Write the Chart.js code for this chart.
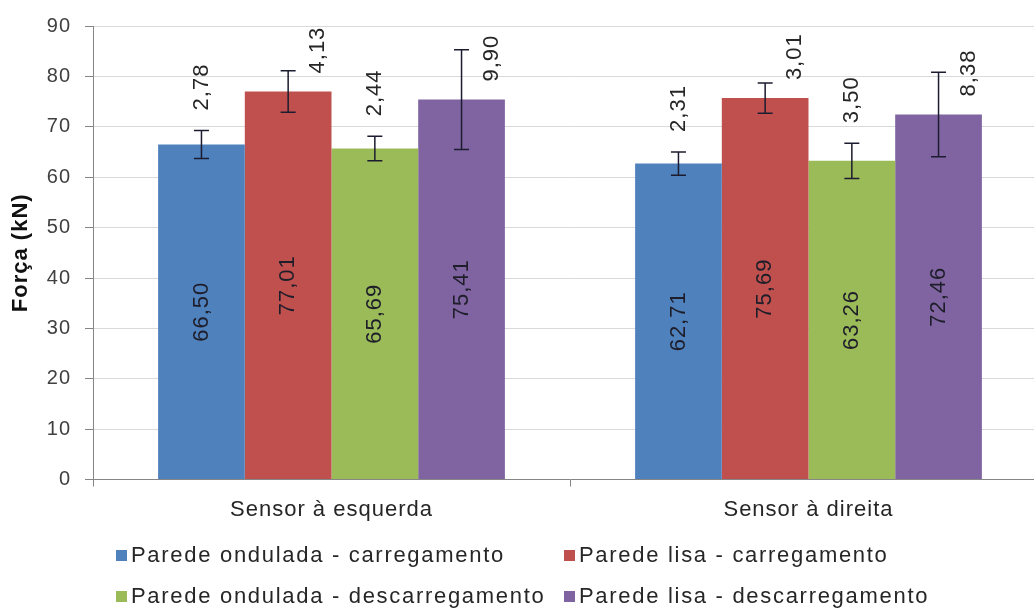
<!DOCTYPE html>
<html>
<head>
<meta charset="utf-8">
<script src="https://cdn.jsdelivr.net/npm/chart.js@4.4.1/dist/chart.umd.min.js"></script>
<style>
  html, body { margin: 0; padding: 0; background: #fff; overflow: hidden; }
  #wrap { width: 1034px; height: 612px; overflow: hidden; position: relative; }
</style>
</head>
<body>
<div id="wrap"><canvas id="myChart" width="1047" height="612"></canvas></div>
<script>
// data
const categories = ['Sensor à esquerda', 'Sensor à direita'];
const seriesNames = [
  'Parede ondulada - carregamento',
  'Parede lisa - carregamento',
  'Parede ondulada - descarregamento',
  'Parede lisa - descarregamento'
];
const onduladaCarregamento = [66.50, 62.71];
const lisaCarregamento = [77.01, 75.69];
const onduladaDescarregamento = [65.69, 63.26];
const lisaDescarregamento = [75.41, 72.46];
const erroOnduladaCarregamento = [2.78, 2.31];
const erroLisaCarregamento = [4.13, 3.01];
const erroOnduladaDescarregamento = [2.44, 3.50];
const erroLisaDescarregamento = [9.90, 8.38];
const yTicks = [0, 10, 20, 30, 40, 50, 60, 70, 80, 90];

const colors = ['#4f81bd', '#c0504d', '#9bbb59', '#8064a2'];
const FONT = 'Liberation Sans, Arial, sans-serif';
const fmt = v => v.toFixed(2).replace('.', ',');

function rotatedText(ctx, text, x, y, align) {
  ctx.save();
  ctx.translate(x, y);
  ctx.rotate(-Math.PI / 2);
  ctx.textAlign = align;
  ctx.textBaseline = 'middle';
  ctx.fillText(text, 0, 0);
  ctx.restore();
}

// Excel-like wide text spacing for everything drawn on the canvas
const spacing = {
  id: 'spacing',
  beforeDraw(chart) { chart.ctx.letterSpacing = '1px'; }
};

// error bars, value labels and error labels
const errorBars = {
  id: 'errorBars',
  afterDatasetsDraw(chart) {
    const ctx = chart.ctx;
    const y = chart.scales.y;
    const top = chart.chartArea.top;
    ctx.save();
    chart.data.datasets.forEach((ds, i) => {
      const meta = chart.getDatasetMeta(i);
      meta.data.forEach((bar, j) => {
        const v = ds.data[j], e = ds.errors[j];
        const yHi = y.getPixelForValue(v + e);
        const yLo = y.getPixelForValue(v - e);
        ctx.strokeStyle = '#1c1c30';
        ctx.lineWidth = 1.5;
        ctx.beginPath();
        ctx.moveTo(bar.x, yHi); ctx.lineTo(bar.x, yLo);
        ctx.moveTo(bar.x - 7.5, yHi); ctx.lineTo(bar.x + 7.5, yHi);
        ctx.moveTo(bar.x - 7.5, yLo); ctx.lineTo(bar.x + 7.5, yLo);
        ctx.stroke();

        ctx.fillStyle = '#1e1e2a';
        ctx.font = '22px ' + FONT;
        rotatedText(ctx, fmt(v), bar.x, (bar.y + bar.base) / 2, 'center');

        // error label above the error bar, or beside it when it would leave the plot
        const label = fmt(e);
        const w = ctx.measureText(label).width;
        let x = bar.x, bottom = yHi - 20;
        if (bottom - w < top) { x = bar.x + 30; bottom = bar.y - 18; }
        ctx.fillStyle = '#262626';
        rotatedText(ctx, label, x, bottom, 'left');
      });
    });
    ctx.restore();
  }
};

// two-column legend below the axis
const legendGrid = {
  id: 'legendGrid',
  afterDraw(chart) {
    const ctx = chart.ctx;
    const cols = [116, 564], rows = [555, 596];
    ctx.save();
    ctx.font = '22px ' + FONT;
    ctx.letterSpacing = '1.7px';
    ctx.textBaseline = 'middle';
    ctx.textAlign = 'left';
    chart.data.datasets.forEach((ds, i) => {
      const x = cols[i % 2], yy = rows[Math.floor(i / 2)];
      ctx.fillStyle = ds.backgroundColor;
      ctx.fillRect(x, yy - 5, 11, 11);
      ctx.fillStyle = '#262626';
      ctx.fillText(ds.label, x + 15, yy + 1);
    });
    ctx.restore();
  }
};

const series = [onduladaCarregamento, lisaCarregamento, onduladaDescarregamento, lisaDescarregamento];
const errors = [erroOnduladaCarregamento, erroLisaCarregamento, erroOnduladaDescarregamento, erroLisaDescarregamento];

const data = {
  labels: categories,
  datasets: series.map((s, i) => ({
    label: seriesNames[i],
    data: s,
    errors: errors[i],
    backgroundColor: colors[i],
    borderWidth: 0,
    categoryPercentage: 0.727,
    barPercentage: 1
  }))
};

const config = {
  type: 'bar',
  data,
  options: {
    responsive: false,
    animation: false,
    devicePixelRatio: 1,
    layout: { padding: { top: 18, right: 0, bottom: 79, left: 0 } },
    plugins: {
      legend: { display: false },
      tooltip: { enabled: false }
    },
    scales: {
      x: {
        border: { color: '#868686', width: 1 },
        grid: { drawOnChartArea: false, drawTicks: true, tickLength: 7, offset: true, tickColor: '#868686' },
        ticks: { color: '#262626', font: { family: FONT, size: 22 }, padding: 10 }
      },
      y: {
        min: 0,
        max: 90,
        afterBuildTicks: s => { s.ticks = yTicks.map(v => ({ value: v })); },
        afterFit: s => { s.width = 93; },
        border: { color: '#868686', width: 1 },
        grid: { color: '#d9d9d9', tickColor: '#868686', tickLength: 8 },
        ticks: { color: '#404040', font: { family: FONT, size: 20 }, padding: 14 },
        title: {
          display: true,
          text: 'Força (kN)',
          color: '#111',
          font: { family: FONT, size: 22, weight: 'bold' },
          padding: { top: 8, bottom: 4 }
        }
      }
    }
  },
  plugins: [spacing, errorBars, legendGrid]
};

const myChart = new Chart(document.getElementById('myChart'), config);
</script>
</body>
</html>
